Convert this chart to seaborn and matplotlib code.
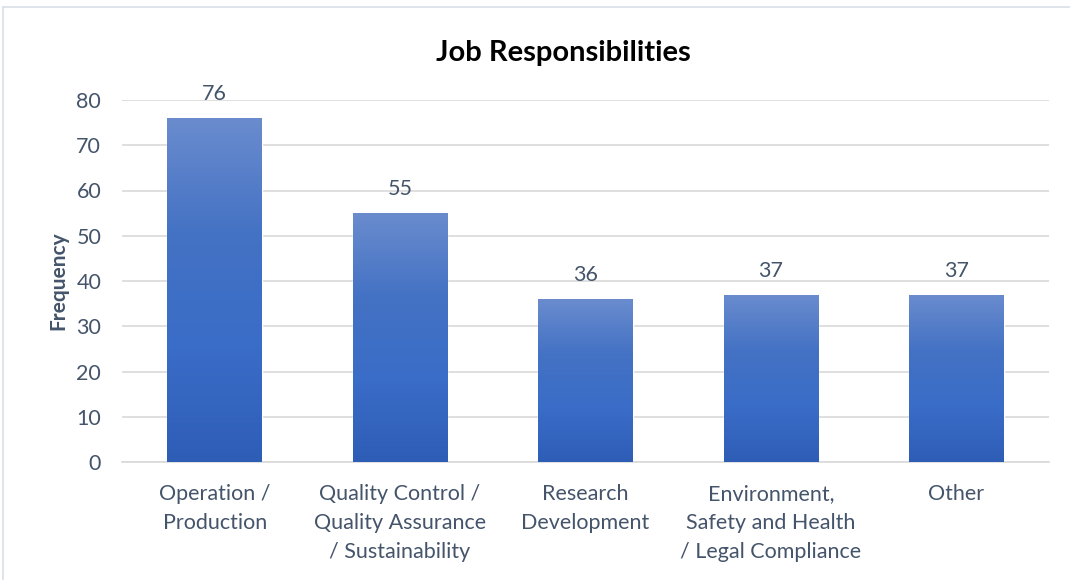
import numpy as np
import pandas as pd
import matplotlib
matplotlib.use("Agg")
import matplotlib.pyplot as plt
from matplotlib.colors import LinearSegmentedColormap
from matplotlib.lines import Line2D
import seaborn as sns

categories = [
    "Operation /\nProduction",
    "Quality Control /\nQuality Assurance\n/ Sustainability",
    "Research\nDevelopment",
    "Environment,\nSafety and Health\n/ Legal Compliance",
    "Other",
]
frequency = [76, 55, 36, 37, 37]
y_ticks = [0, 10, 20, 30, 40, 50, 60, 70, 80]

df = pd.DataFrame({"category": categories, "frequency": frequency})

sns.set_theme(style="white")
plt.rcParams["font.family"] = ["Lato", "DejaVu Sans"]

text_color = "#44546A"
grid_color = "#D9D9D9"

fig = plt.figure(figsize=(10.7, 5.8), dpi=100)
ax = fig.add_axes([122 / 1070, 1 - 462 / 580, (1049 - 122) / 1070, (462 - 100) / 580])

sns.barplot(data=df, x="category", y="frequency", color="#4472C4",
            width=0.51, ax=ax, zorder=2)

# vertical gradient fill for each bar, clipped to the bar shape
grad_cmap = LinearSegmentedColormap.from_list(
    "bar_grad", ["#2E5DB6", "#3A6DC8", "#4472C4", "#6A8CCE"])
grad = np.linspace(0, 1, 256).reshape(-1, 1)
for patch in ax.patches:
    x0, y0 = patch.get_x(), patch.get_y()
    w, h = patch.get_width(), patch.get_height()
    im = ax.imshow(grad, cmap=grad_cmap, origin="lower", aspect="auto",
                   extent=[x0, x0 + w, y0, y0 + h], zorder=3,
                   interpolation="bilinear")
    im.set_clip_path(patch)
    ax.annotate(f"{h:g}", (x0 + w / 2, y0 + h), xytext=(0, 10),
                textcoords="offset points", ha="center", va="bottom",
                fontsize=15.5, color=text_color)

ax.set_xlim(-0.5, len(categories) - 0.5)
ax.set_ylim(0, 80)
ax.set_yticks(y_ticks)
ax.yaxis.grid(True, color=grid_color, linewidth=1.2, zorder=0)
ax.set_axisbelow(True)
for side in ["top", "right", "left"]:
    ax.spines[side].set_visible(False)
ax.spines["bottom"].set_color(grid_color)
ax.spines["bottom"].set_linewidth(1.2)
ax.tick_params(axis="both", length=0, labelsize=15.5, labelcolor=text_color)
ax.tick_params(axis="x", pad=16)
ax.tick_params(axis="y", pad=15)
for lbl in ax.get_xticklabels():
    lbl.set_linespacing(1.55)
    lbl.set_va("top")

ax.set_xlabel("")
ax.set_ylabel("Frequency", fontsize=15, fontweight="bold", color=text_color,
              labelpad=6)

fig.text(563 / 1070, 1 - 53 / 580, "Job Responsibilities", ha="center",
         va="center", fontsize=21, fontweight="bold", color="black")

# chart frame edges
fig.add_artist(Line2D([3 / 1070, 1], [1 - 7 / 580, 1 - 7 / 580],
                      transform=fig.transFigure, color="#D9DEE8", linewidth=1.2))
fig.add_artist(Line2D([3 / 1070, 3 / 1070], [0, 1 - 7 / 580],
                      transform=fig.transFigure, color="#D9DEE8", linewidth=1.2))

fig.savefig("out.png", dpi=100)
